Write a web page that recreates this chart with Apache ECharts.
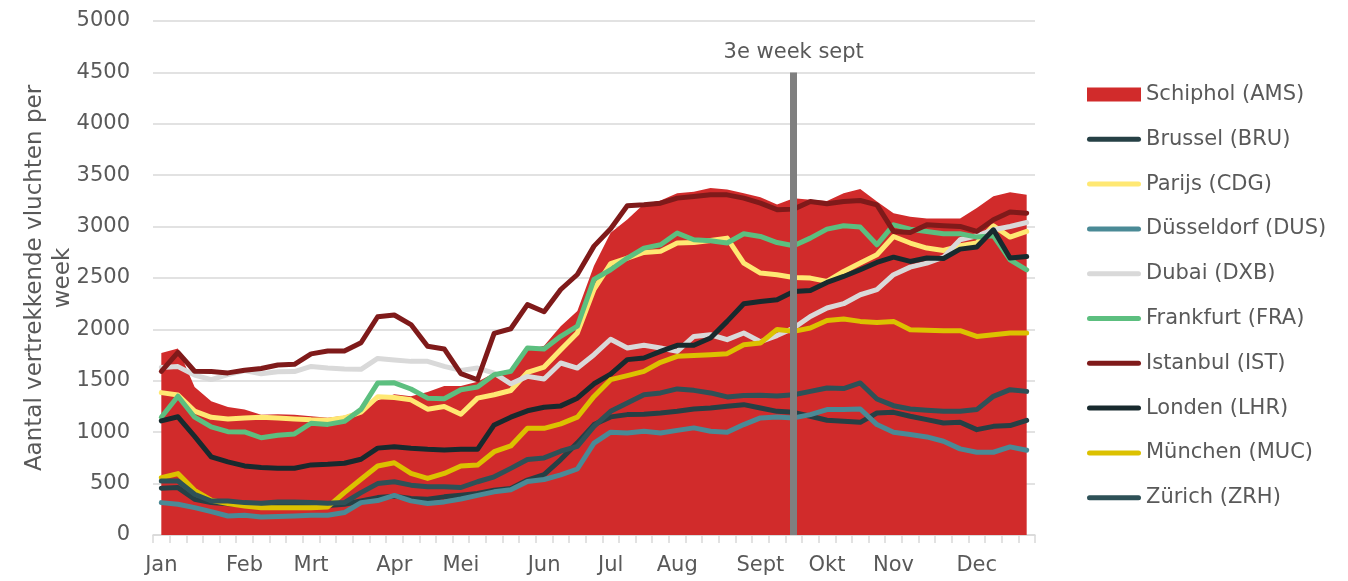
<!DOCTYPE html>
<html>
<head>
<meta charset="utf-8">
<title>Vertrekkende vluchten per week</title>
<script src="https://cdn.jsdelivr.net/npm/echarts@6/dist/echarts.min.js"></script>
<style>
    html, body { margin: 0; padding: 0; background: #fff; }
    #chart { width: 1348px; height: 581px; }
</style>
</head>
<body>
<div id="chart"></div>
<script>
// weken (categorieen op de x-as)
const weeks = [1, 2, 3, 4, 5, 6, 7, 8, 9, 10, 11, 12, 13, 14, 15, 16, 17, 18, 19, 20,
    21, 22, 23, 24, 25, 26, 27, 28, 29, 30, 31, 32, 33, 34, 35, 36, 37, 38, 39, 40,
    41, 42, 43, 44, 45, 46, 47, 48, 49, 50, 51, 52, 53];

// maandlabels: [index van de week, label]
const monthLabels = [[0, 'Jan'], [5, 'Feb'], [9, 'Mrt'], [14, 'Apr'], [18, 'Mei'], [23, 'Jun'],
    [27, 'Jul'], [31, 'Aug'], [36, 'Sept'], [40, 'Okt'], [44, 'Nov'], [49, 'Dec']];

const yTicks = [0, 500, 1000, 1500, 2000, 2500, 3000, 3500, 4000, 4500, 5000];

const markerWeek = 38;
const markerTop = 4500;

const ams = [1770, 1815, 1440, 1300, 1245, 1220, 1170, 1175, 1170, 1155, 1140, 1160, 1215, 1310, 1370, 1350,
    1390, 1450, 1450, 1490, 1575, 1610, 1800, 1840, 2030, 2180, 2620, 2940, 3070, 3220, 3255, 3325, 3340,
    3375, 3360, 3325, 3285, 3215, 3275, 3260, 3250, 3325, 3365, 3245, 3130, 3095, 3080, 3080, 3080, 3180,
    3295, 3335, 3310];
const bru = [455, 461, 347, 315, 305, 292, 273, 279, 279, 292, 286, 299, 331, 364, 378, 355, 348, 371, 387,
    404, 436, 452, 534, 588, 734, 896, 1074, 1149, 1171, 1175, 1187, 1203, 1226, 1236, 1252, 1268, 1236,
    1203, 1193, 1155, 1116, 1106, 1096, 1187, 1193, 1155, 1122, 1090, 1096, 1025, 1057, 1064, 1116];
const cdg = [1385, 1362, 1205, 1145, 1128, 1138, 1146, 1138, 1128, 1120, 1116, 1140, 1195, 1345, 1337, 1315,
    1224, 1250, 1175, 1331, 1364, 1406, 1582, 1634, 1803, 1966, 2389, 2640, 2694, 2749, 2759, 2840, 2846,
    2865, 2888, 2645, 2548, 2532, 2505, 2499, 2467, 2564, 2645, 2726, 2904, 2840, 2791, 2768, 2813, 2840,
    3008, 2898, 2953];
const dus = [315, 299, 266, 227, 185, 192, 175, 179, 185, 192, 192, 218, 315, 335, 385, 332, 306, 322, 350,
    385, 420, 440, 520, 540, 585, 642, 894, 1000, 993, 1009, 993, 1018, 1042, 1009, 999, 1074, 1139, 1149,
    1139, 1171, 1220, 1220, 1226, 1074, 999, 977, 954, 912, 838, 805, 805, 857, 824];
const dxb = [1630, 1638, 1555, 1512, 1560, 1600, 1568, 1588, 1590, 1640, 1625, 1615, 1612, 1718, 1702, 1689,
    1689, 1641, 1601, 1624, 1575, 1471, 1543, 1517, 1673, 1624, 1754, 1904, 1819, 1845, 1819, 1786, 1932,
    1948, 1900, 1965, 1880, 1940, 2013, 2126, 2208, 2250, 2337, 2386, 2532, 2606, 2645, 2703, 2872, 2911,
    2969, 3001, 3040];
const fra = [1146, 1350, 1146, 1052, 1005, 1003, 946, 970, 983, 1087, 1076, 1105, 1222, 1478, 1480, 1420,
    1331, 1325, 1413, 1439, 1559, 1592, 1820, 1810, 1933, 2031, 2487, 2580, 2694, 2791, 2823, 2937, 2872,
    2862, 2840, 2930, 2904, 2845, 2813, 2888, 2975, 3008, 2995, 2823, 3017, 2975, 2953, 2930, 2930, 2898,
    2911, 2677, 2580];
const ist = [1592, 1777, 1593, 1590, 1577, 1603, 1619, 1653, 1660, 1762, 1790, 1790, 1870, 2123, 2140, 2047,
    1836, 1810, 1570, 1510, 1962, 2006, 2241, 2172, 2388, 2534, 2810, 2980, 3202, 3212, 3228, 3277, 3293,
    3309, 3309, 3277, 3228, 3165, 3170, 3244, 3222, 3244, 3254, 3212, 2953, 2943, 3017, 3008, 3002, 2953,
    3066, 3141, 3131];
const lhr = [1110, 1150, 960, 760, 711, 672, 656, 649, 649, 682, 688, 698, 737, 845, 859, 843, 833, 827, 833,
    833, 1071, 1146, 1208, 1243, 1256, 1331, 1471, 1565, 1706, 1722, 1786, 1845, 1845, 1916, 2078, 2250,
    2272, 2289, 2369, 2379, 2457, 2515, 2580, 2651, 2703, 2661, 2694, 2690, 2781, 2801, 2969, 2694, 2710];
const muc = [558, 597, 435, 338, 305, 282, 266, 266, 266, 266, 273, 412, 542, 671, 703, 599, 550, 599, 671,
    680, 810, 866, 1038, 1038, 1081, 1146, 1348, 1511, 1550, 1592, 1680, 1738, 1745, 1754, 1764, 1851, 1868,
    2000, 1981, 2013, 2087, 2101, 2078, 2068, 2078, 1997, 1991, 1988, 1988, 1932, 1948, 1965, 1965];
const zrh = [526, 526, 396, 331, 331, 315, 308, 321, 321, 315, 308, 315, 412, 500, 518, 485, 469, 469, 462,
    518, 566, 648, 734, 750, 815, 863, 1057, 1203, 1285, 1365, 1382, 1421, 1407, 1382, 1343, 1356, 1360,
    1352, 1365, 1397, 1430, 1424, 1479, 1323, 1258, 1226, 1213, 1203, 1203, 1220, 1349, 1414, 1397];

const FONT = 'DejaVu Sans';
const TEXT = '#595959';
const GRID = '#d9d9d9';
// afgeronde streep als legend-icoon
const LINE_ICON = 'path://M2.5,0 L51.5,0 A2.5,2.5 0 0 1 51.5,5 L2.5,5 A2.5,2.5 0 0 1 2.5,0 Z';

function lineSeries(name, data, color) {
    return {
        name: name,
        type: 'line',
        data: data,
        symbol: 'none',
        lineStyle: { color: color, width: 5, join: 'round', cap: 'round' },
        itemStyle: { color: color },
        emphasis: { disabled: true }
    };
}

function initChart() {
    const chart = echarts.init(document.getElementById('chart'));
    const labelMap = {};
    monthLabels.forEach(function (m) { labelMap[m[0]] = m[1]; });

    const legendNames = ['Brussel (BRU)', 'Parijs (CDG)', 'Düsseldorf (DUS)', 'Dubai (DXB)', 'Frankfurt (FRA)',
        'Istanbul (IST)', 'Londen (LHR)', 'München (MUC)', 'Zürich (ZRH)'];

    const option = {
        animation: false,
        textStyle: { fontFamily: FONT },
        grid: {
            left: 153,
            right: 313,
            top: 21,
            bottom: 46,
            containLabel: false,
            outerBoundsMode: 'none'
        },
        legend: {
            orient: 'vertical',
            left: 1087,
            top: 84,
            padding: 0,
            itemWidth: 54,
            itemHeight: 14,
            itemGap: 23.8,
            symbolKeepAspect: true,
            selectedMode: false,
            textStyle: { fontFamily: FONT, fontSize: 21, color: TEXT },
            data: [{ name: 'Schiphol (AMS)', icon: 'rect' }].concat(legendNames.map(function (n) {
                return { name: n, icon: LINE_ICON };
            }))
        },
        xAxis: {
            type: 'category',
            data: weeks,
            boundaryGap: true,
            axisLine: { lineStyle: { color: GRID, width: 1.5 } },
            axisTick: { show: true, interval: 0, length: 8, lineStyle: { color: GRID, width: 1.5 } },
            axisLabel: {
                interval: 0,
                margin: 20,
                fontFamily: FONT,
                fontSize: 21,
                color: TEXT,
                formatter: function (value, index) { return labelMap[index] || ''; }
            },
            splitLine: { show: false }
        },
        yAxis: {
            type: 'value',
            min: yTicks[0],
            max: yTicks[yTicks.length - 1],
            interval: yTicks[1] - yTicks[0],
            name: 'Aantal vertrekkende vluchten per\nweek',
            nameLocation: 'middle',
            nameGap: 76,
            nameMoveOverlap: false,
            nameTextStyle: { fontFamily: FONT, fontSize: 23, color: TEXT, lineHeight: 28 },
            axisLine: { show: false },
            axisTick: { show: false },
            axisLabel: {
                margin: 23,
                fontFamily: FONT,
                fontSize: 21,
                color: TEXT,
                formatter: function (v) { return String(v); }
            },
            splitLine: { lineStyle: { color: GRID, width: 1.5 } }
        },
        series: [
            {
                name: 'Schiphol (AMS)',
                type: 'line',
                data: ams,
                symbol: 'none',
                lineStyle: { width: 0 },
                itemStyle: { color: '#d12b2b' },
                areaStyle: { color: '#d12b2b', opacity: 1 },
                emphasis: { disabled: true },
                z: 1,
                markLine: {
                    silent: true,
                    symbol: 'none',
                    z: 5,
                    lineStyle: { color: '#7f7f7f', width: 7, type: 'solid' },
                    label: {
                        show: true,
                        position: 'end',
                        distance: 9,
                        formatter: '3e week sept',
                        fontFamily: FONT,
                        fontSize: 21,
                        color: TEXT
                    },
                    data: [[{ coord: [markerWeek, 0] }, { coord: [markerWeek, markerTop] }]]
                }
            },
            lineSeries('Brussel (BRU)', bru, '#264045'),
            lineSeries('Parijs (CDG)', cdg, '#ffe873'),
            lineSeries('Düsseldorf (DUS)', dus, '#4a8a96'),
            lineSeries('Dubai (DXB)', dxb, '#d9d9d9'),
            lineSeries('Frankfurt (FRA)', fra, '#5cbf7f'),
            lineSeries('Istanbul (IST)', ist, '#7f1a1a'),
            lineSeries('Londen (LHR)', lhr, '#182a2e'),
            lineSeries('München (MUC)', muc, '#dcc100'),
            lineSeries('Zürich (ZRH)', zrh, '#2e5157')
        ]
    };

    chart.setOption(option);

    window.addEventListener('resize', function () {
        chart.resize();
    });
}

document.addEventListener('DOMContentLoaded', initChart);
</script>
</body>
</html>
